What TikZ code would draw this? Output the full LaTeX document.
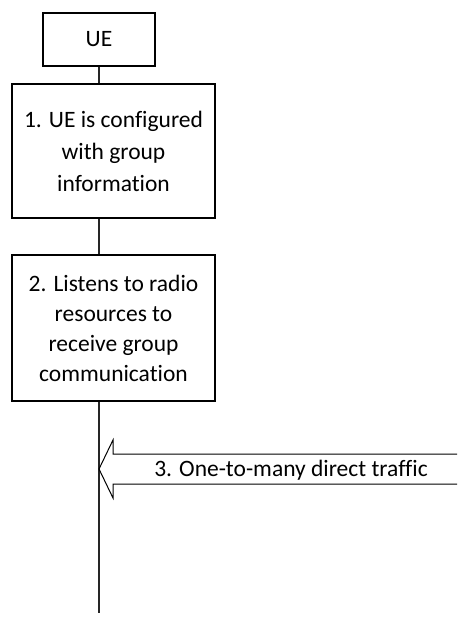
\documentclass[tikz,border=0pt]{standalone}
\usepackage{fontspec}
\setmainfont{Carlito}[Ligatures=NoCommon]
\usepackage{tikz}
\usetikzlibrary{arrows.meta,positioning}

\begin{document}
\begin{tikzpicture}[
    x=1pt, y=-1pt,
    box/.style={rectangle, draw=black, line width=1.3pt, align=center, inner sep=0pt, font=\fontsize{23.5}{32}\selectfont},
    lifeline/.style={draw=black!85, line width=2pt},
    blockarrow/.style={draw=black, line width=1pt}
]
    \useasboundingbox (0,0) rectangle (457,617);

    \node[box, minimum width=112pt, minimum height=53pt] (ue) at (99,39.5) {UE};
    \node[box, minimum width=203pt, minimum height=134pt, text depth=-5pt] (configured) at (113.5,151) {1. UE is configured\\with group\\information};
    \node[box, minimum width=203pt, minimum height=146pt, font=\fontsize{23.5}{30}\selectfont] (listens) at (113.5,328) {2. Listens to radio\\resources to\\receive group\\communication};
    \coordinate (lifeend) at (99,613);
    \coordinate (tip) at (99,469);

    \draw[lifeline] (ue.south) -- (ue.south |- configured.north);
    \draw[lifeline] (ue.south |- configured.south) -- (ue.south |- listens.north);
    \draw[lifeline] (ue.south |- listens.south) -- (lifeend);

    % one-to-many traffic
    \draw[blockarrow] (457,454) -- (113,454) -- (113,440) -- (tip) -- (113,498) -- (113,484) -- (457,484);
    \node[font=\fontsize{23.5}{32}\selectfont, inner sep=0pt] (traffic) at (291,470) {3. One-to-many direct traffic};
\end{tikzpicture}
\end{document}
